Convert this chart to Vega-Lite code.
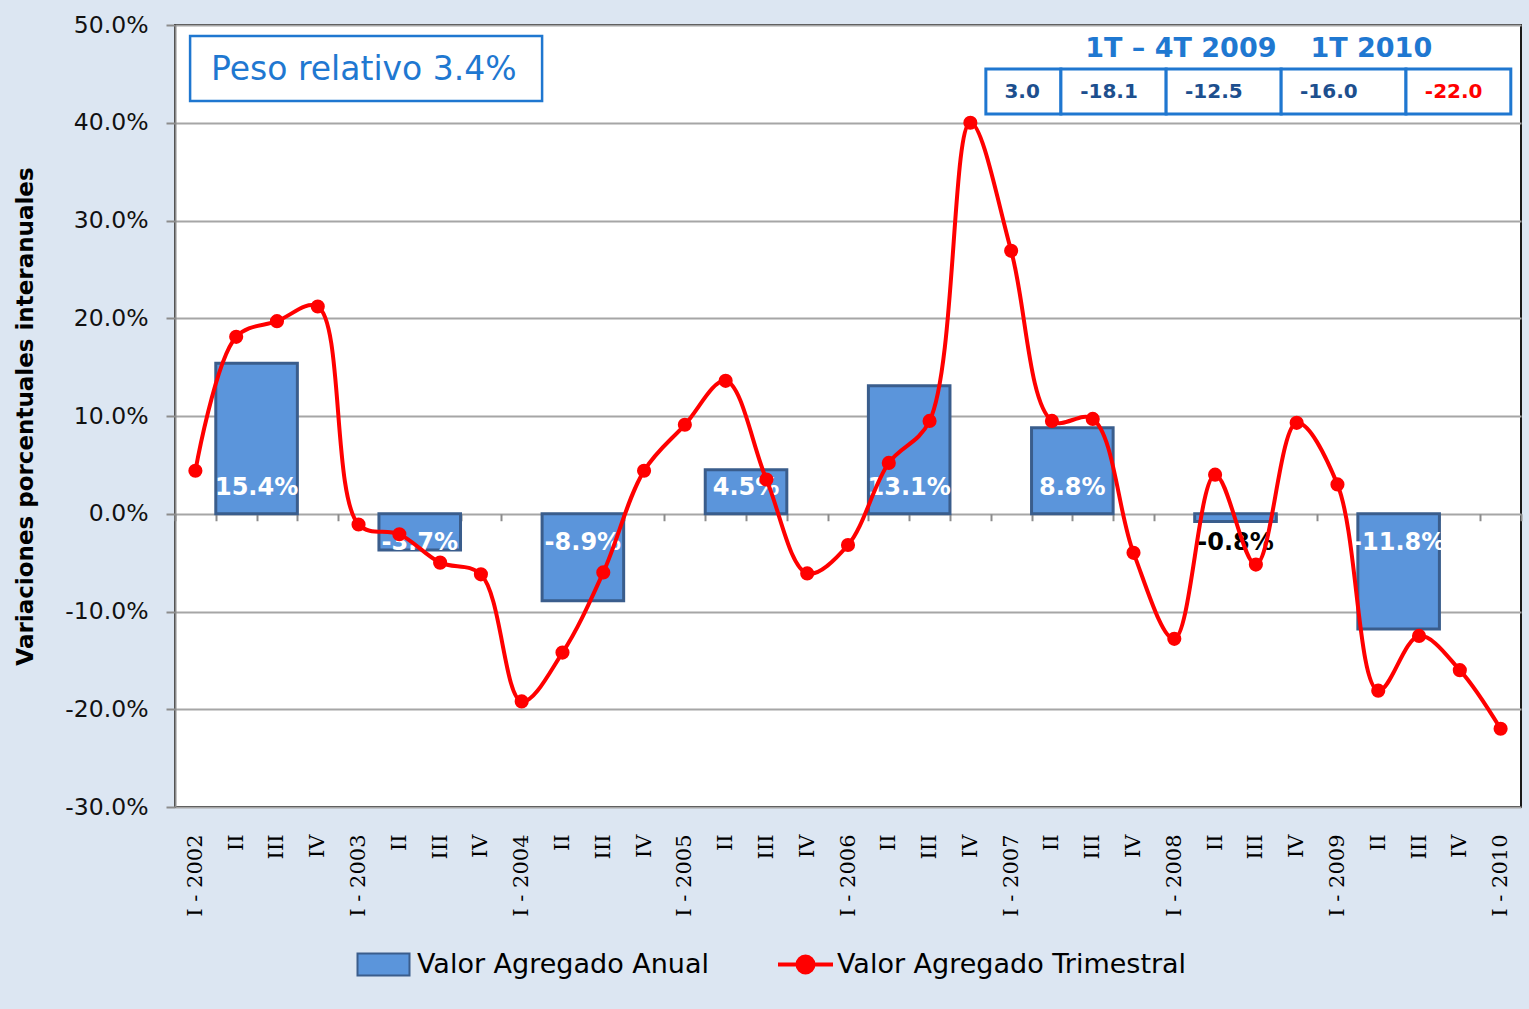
{
  "$schema": "https://vega.github.io/schema/vega-lite/v6.json",
  "width": 1346,
  "height": 782,
  "autosize": {"type": "none"},
  "padding": {"left": 175, "top": 25, "right": 8, "bottom": 202},
  "background": "#dce6f2",
  "config": {
    "view": {"fill": "white", "stroke": "#1a1a1a", "strokeWidth": 2},
    "font": "DejaVu Sans"
  },
  "datasets": {
    "quarters": [
      {"i": 0, "q": "I - 2002", "v": 4.4}, {"i": 1, "q": "II 2002", "v": 18.1}, {"i": 2, "q": "III 2002", "v": 19.7}, {"i": 3, "q": "IV 2002", "v": 21.2},
      {"i": 4, "q": "I - 2003", "v": -1.1}, {"i": 5, "q": "II 2003", "v": -2.1}, {"i": 6, "q": "III 2003", "v": -5.0}, {"i": 7, "q": "IV 2003", "v": -6.2},
      {"i": 8, "q": "I - 2004", "v": -19.2}, {"i": 9, "q": "II 2004", "v": -14.2}, {"i": 10, "q": "III 2004", "v": -6.0}, {"i": 11, "q": "IV 2004", "v": 4.4},
      {"i": 12, "q": "I - 2005", "v": 9.1}, {"i": 13, "q": "II 2005", "v": 13.6}, {"i": 14, "q": "III 2005", "v": 3.5}, {"i": 15, "q": "IV 2005", "v": -6.1},
      {"i": 16, "q": "I - 2006", "v": -3.2}, {"i": 17, "q": "II 2006", "v": 5.2}, {"i": 18, "q": "III 2006", "v": 9.5}, {"i": 19, "q": "IV 2006", "v": 40.0},
      {"i": 20, "q": "I - 2007", "v": 26.9}, {"i": 21, "q": "II 2007", "v": 9.5}, {"i": 22, "q": "III 2007", "v": 9.7}, {"i": 23, "q": "IV 2007", "v": -4.0},
      {"i": 24, "q": "I - 2008", "v": -12.8}, {"i": 25, "q": "II 2008", "v": 4.0}, {"i": 26, "q": "III 2008", "v": -5.2}, {"i": 27, "q": "IV 2008", "v": 9.3},
      {"i": 28, "q": "I - 2009", "v": 3.0}, {"i": 29, "q": "II 2009", "v": -18.1}, {"i": 30, "q": "III 2009", "v": -12.5}, {"i": 31, "q": "IV 2009", "v": -16.0},
      {"i": 32, "q": "I - 2010", "v": -22.0}
    ],
    "years": [
      {"year": 2002, "i0": 1, "i1": 2, "v": 15.4},
      {"year": 2003, "i0": 5, "i1": 6, "v": -3.7},
      {"year": 2004, "i0": 9, "i1": 10, "v": -8.9},
      {"year": 2005, "i0": 13, "i1": 14, "v": 4.5},
      {"year": 2006, "i0": 17, "i1": 18, "v": 13.1},
      {"year": 2007, "i0": 21, "i1": 22, "v": 8.8},
      {"year": 2008, "i0": 25, "i1": 26, "v": -0.8},
      {"year": 2009, "i0": 29, "i1": 30, "v": -11.8}
    ]
  },
  "resolve": {"axis": {"x": "independent"}},
  "layer": [
    {
      "data": {"name": "years"},
      "transform": [
        {"calculate": "datum.i0 - 0.5", "as": "x0"},
        {"calculate": "datum.i1 + 0.5", "as": "x1"}
      ],
      "mark": {"type": "rect", "stroke": "#3a5d8c", "strokeWidth": 3},
      "encoding": {
        "x": {
          "field": "x0", "type": "quantitative",
          "scale": {"domain": [-0.5, 32.5], "nice": false, "zero": false},
          "axis": {
            "orient": "bottom",
            "values": [0,1,2,3,4,5,6,7,8,9,10,11,12,13,14,15,16,17,18,19,20,21,22,23,24,25,26,27,28,29,30,31,32],
            "labelExpr": "datum.value % 4 == 0 ? 'I - ' + (2002 + datum.value / 4) : (datum.value % 4 == 1 ? 'II' : (datum.value % 4 == 2 ? 'III' : 'IV'))",
            "labelAngle": 270, "labelAlign": "right", "labelBaseline": "middle",
            "labelFont": "DejaVu Serif", "labelFontSize": 21, "labelColor": "#000000",
            "labelPadding": 27, "ticks": false, "domain": false, "grid": false, "title": null,
            "labelOverlap": false, "labelBound": false, "labelFlush": false
          }
        },
        "x2": {"field": "x1"},
        "y": {
          "field": "v", "type": "quantitative",
          "scale": {"domain": [-30, 50], "nice": false, "zero": false},
          "axis": {
            "values": [-30, -20, -10, 0, 10, 20, 30, 40, 50],
            "labelExpr": "(datum.value < 0 ? '-' : '') + format(abs(datum.value), '.1f') + '%'",
            "labelFont": "DejaVu Sans", "labelFontSize": 23.5, "labelColor": "#111111",
            "labelPadding": 18, "tickSize": 9, "tickColor": "#8c8c8c", "tickWidth": 2,
            "domainColor": "#8c8c8c", "domainWidth": 2,
            "grid": true, "gridColor": "#a6a6a6", "gridWidth": 2,
            "title": "Variaciones porcentuales  interanuales",
            "titleFont": "DejaVu Sans", "titleFontSize": 23, "titleFontWeight": "bold", "titleColor": "#000000",
            "titleX": -138, "titleY": 391, "titleAngle": 270, "titleBaseline": "bottom", "titleAlign": "center",
            "labelFlush": false, "labelOverlap": false
          }
        },
        "y2": {"datum": 0},
        "fill": {
          "datum": "Valor Agregado Anual",
          "scale": {"range": ["#5b95db"]},
          "legend": {
            "orient": "none", "legendX": 195, "legendY": 926, "title": null, "padding": 0,
            "symbolType": "M-2.6,-1.1H2.6V1.1H-2.6Z", "symbolSize": 400,
            "symbolStrokeColor": "#3a5d8c", "symbolStrokeWidth": 2,
            "labelFont": "DejaVu Sans", "labelFontSize": 27, "labelColor": "#000000",
            "labelOffset": 20, "labelLimit": 600
          }
        }
      }
    },
    {
      "data": {"name": "years"},
      "transform": [
        {"filter": "datum.v > 0"},
        {"calculate": "(datum.i0 + datum.i1) / 2", "as": "xc"},
        {"calculate": "format(datum.v, '.1f') + '%'", "as": "etiqueta"}
      ],
      "mark": {"type": "text", "dy": -26, "fontSize": 24, "fontWeight": "bold", "font": "DejaVu Sans", "baseline": "middle", "align": "center", "color": "#ffffff"},
      "encoding": {
        "x": {"field": "xc", "type": "quantitative", "axis": null},
        "y": {"datum": 0, "type": "quantitative"},
        "text": {"field": "etiqueta"}
      }
    },
    {
      "data": {"name": "years"},
      "transform": [
        {"filter": "datum.v < 0"},
        {"calculate": "(datum.i0 + datum.i1) / 2", "as": "xc"},
        {"calculate": "'-' + format(abs(datum.v), '.1f') + '%'", "as": "etiqueta"}
      ],
      "mark": {"type": "text", "dy": 29, "fontSize": 24, "fontWeight": "bold", "font": "DejaVu Sans", "baseline": "middle", "align": "center"},
      "encoding": {
        "x": {"field": "xc", "type": "quantitative", "axis": null},
        "y": {"datum": 0, "type": "quantitative"},
        "text": {"field": "etiqueta"},
        "color": {"condition": {"test": "datum.v > -2", "value": "#000000"}, "value": "#ffffff"}
      }
    },
    {
      "data": {"name": "quarters"},
      "mark": {"type": "line", "interpolate": "catmull-rom", "strokeWidth": 4},
      "encoding": {
        "x": {
          "field": "i", "type": "quantitative",
          "axis": {
            "orient": "bottom", "offset": -293.25,
            "values": [-0.5,0.5,1.5,2.5,3.5,4.5,5.5,6.5,7.5,8.5,9.5,10.5,11.5,12.5,13.5,14.5,15.5,16.5,17.5,18.5,19.5,20.5,21.5,22.5,23.5,24.5,25.5,26.5,27.5,28.5,29.5,30.5,31.5,32.5],
            "labels": false, "ticks": true, "tickSize": 7, "tickColor": "#8c8c8c", "tickWidth": 2,
            "domain": false, "grid": false, "title": null
          }
        },
        "y": {"field": "v", "type": "quantitative"},
        "stroke": {
          "datum": "Valor Agregado Trimestral",
          "scale": {"range": ["#ff0000"]},
          "legend": {
            "orient": "none", "legendX": 617, "legendY": 926, "title": null, "padding": 0,
            "symbolType": "M-2.75,0H2.75M-0.8,0A0.8,0.8 0 1,0 0.8,0A0.8,0.8 0 1,0 -0.8,0Z",
            "symbolSize": 400, "symbolStrokeWidth": 4, "symbolFillColor": "#ff0000",
            "labelFont": "DejaVu Sans", "labelFontSize": 27, "labelColor": "#000000",
            "labelOffset": 18, "labelLimit": 600,
            "encode": {"symbols": {"update": {"fill": {"value": "#ff0000"}}}}
          }
        }
      }
    },
    {
      "data": {"name": "quarters"},
      "mark": {"type": "point", "filled": true, "size": 200, "color": "#ff0000", "opacity": 1},
      "encoding": {
        "x": {"field": "i", "type": "quantitative", "axis": null},
        "y": {"field": "v", "type": "quantitative"}
      }
    },
    {
      "data": {"values": [{}]},
      "mark": {"type": "rect", "fill": "#ffffff", "stroke": "#1f77d0", "strokeWidth": 2.5},
      "encoding": {
        "x": {"datum": -0.13, "type": "quantitative", "axis": null},
        "x2": {"datum": 8.5},
        "y": {"datum": 42.23, "type": "quantitative"},
        "y2": {"datum": 48.87}
      }
    },
    {
      "data": {"values": [{}]},
      "mark": {"type": "text", "text": "Peso relativo 3.4%", "font": "DejaVu Sans", "fontSize": 33, "color": "#1f78d1", "align": "center", "baseline": "middle"},
      "encoding": {
        "x": {"datum": 4.13, "type": "quantitative", "axis": null},
        "y": {"datum": 45.4, "type": "quantitative"}
      }
    },
    {
      "data": {"values": [{}]},
      "mark": {"type": "text", "text": "1T – 4T 2009", "font": "DejaVu Sans", "fontSize": 27, "fontWeight": "bold", "color": "#1f78d1", "align": "center", "baseline": "middle"},
      "encoding": {
        "x": {"datum": 24.16, "type": "quantitative", "axis": null},
        "y": {"datum": 47.5, "type": "quantitative"}
      }
    },
    {
      "data": {"values": [{}]},
      "mark": {"type": "text", "text": "1T 2010", "font": "DejaVu Sans", "fontSize": 27, "fontWeight": "bold", "color": "#1f78d1", "align": "center", "baseline": "middle"},
      "encoding": {
        "x": {"datum": 28.83, "type": "quantitative", "axis": null},
        "y": {"datum": 47.5, "type": "quantitative"}
      }
    },
    {
      "data": {"values": [{}]},
      "mark": {"type": "rect", "fill": "#ffffff", "stroke": "#1f77d0", "strokeWidth": 3},
      "encoding": {"x": {"datum": 19.38, "type": "quantitative", "axis": null}, "x2": {"datum": 21.22}, "y": {"datum": 40.9, "type": "quantitative"}, "y2": {"datum": 45.5}}
    },
    {
      "data": {"values": [{}]},
      "mark": {"type": "rect", "fill": "#ffffff", "stroke": "#1f77d0", "strokeWidth": 3},
      "encoding": {"x": {"datum": 21.22, "type": "quantitative", "axis": null}, "x2": {"datum": 23.8}, "y": {"datum": 40.9, "type": "quantitative"}, "y2": {"datum": 45.5}}
    },
    {
      "data": {"values": [{}]},
      "mark": {"type": "rect", "fill": "#ffffff", "stroke": "#1f77d0", "strokeWidth": 3},
      "encoding": {"x": {"datum": 23.8, "type": "quantitative", "axis": null}, "x2": {"datum": 26.62}, "y": {"datum": 40.9, "type": "quantitative"}, "y2": {"datum": 45.5}}
    },
    {
      "data": {"values": [{}]},
      "mark": {"type": "rect", "fill": "#ffffff", "stroke": "#1f77d0", "strokeWidth": 3},
      "encoding": {"x": {"datum": 26.62, "type": "quantitative", "axis": null}, "x2": {"datum": 29.68}, "y": {"datum": 40.9, "type": "quantitative"}, "y2": {"datum": 45.5}}
    },
    {
      "data": {"values": [{}]},
      "mark": {"type": "rect", "fill": "#ffffff", "stroke": "#1f77d0", "strokeWidth": 3},
      "encoding": {"x": {"datum": 29.68, "type": "quantitative", "axis": null}, "x2": {"datum": 32.25}, "y": {"datum": 40.9, "type": "quantitative"}, "y2": {"datum": 45.5}}
    },
    {
      "data": {"values": [{}]},
      "mark": {"type": "text", "text": "3.0", "font": "DejaVu Sans", "fontSize": 20, "fontWeight": "bold", "color": "#1d4f8e", "align": "center", "baseline": "middle"},
      "encoding": {"x": {"datum": 20.27, "type": "quantitative", "axis": null}, "y": {"datum": 43.1, "type": "quantitative"}}
    },
    {
      "data": {"values": [{}]},
      "mark": {"type": "text", "text": "-18.1", "font": "DejaVu Sans", "fontSize": 20, "fontWeight": "bold", "color": "#1d4f8e", "align": "center", "baseline": "middle"},
      "encoding": {"x": {"datum": 22.4, "type": "quantitative", "axis": null}, "y": {"datum": 43.1, "type": "quantitative"}}
    },
    {
      "data": {"values": [{}]},
      "mark": {"type": "text", "text": "-12.5", "font": "DejaVu Sans", "fontSize": 20, "fontWeight": "bold", "color": "#1d4f8e", "align": "center", "baseline": "middle"},
      "encoding": {"x": {"datum": 24.97, "type": "quantitative", "axis": null}, "y": {"datum": 43.1, "type": "quantitative"}}
    },
    {
      "data": {"values": [{}]},
      "mark": {"type": "text", "text": "-16.0", "font": "DejaVu Sans", "fontSize": 20, "fontWeight": "bold", "color": "#1d4f8e", "align": "center", "baseline": "middle"},
      "encoding": {"x": {"datum": 27.79, "type": "quantitative", "axis": null}, "y": {"datum": 43.1, "type": "quantitative"}}
    },
    {
      "data": {"values": [{}]},
      "mark": {"type": "text", "text": "-22.0", "font": "DejaVu Sans", "fontSize": 20, "fontWeight": "bold", "color": "#ff0000", "align": "center", "baseline": "middle"},
      "encoding": {"x": {"datum": 30.85, "type": "quantitative", "axis": null}, "y": {"datum": 43.1, "type": "quantitative"}}
    }
  ]
}
